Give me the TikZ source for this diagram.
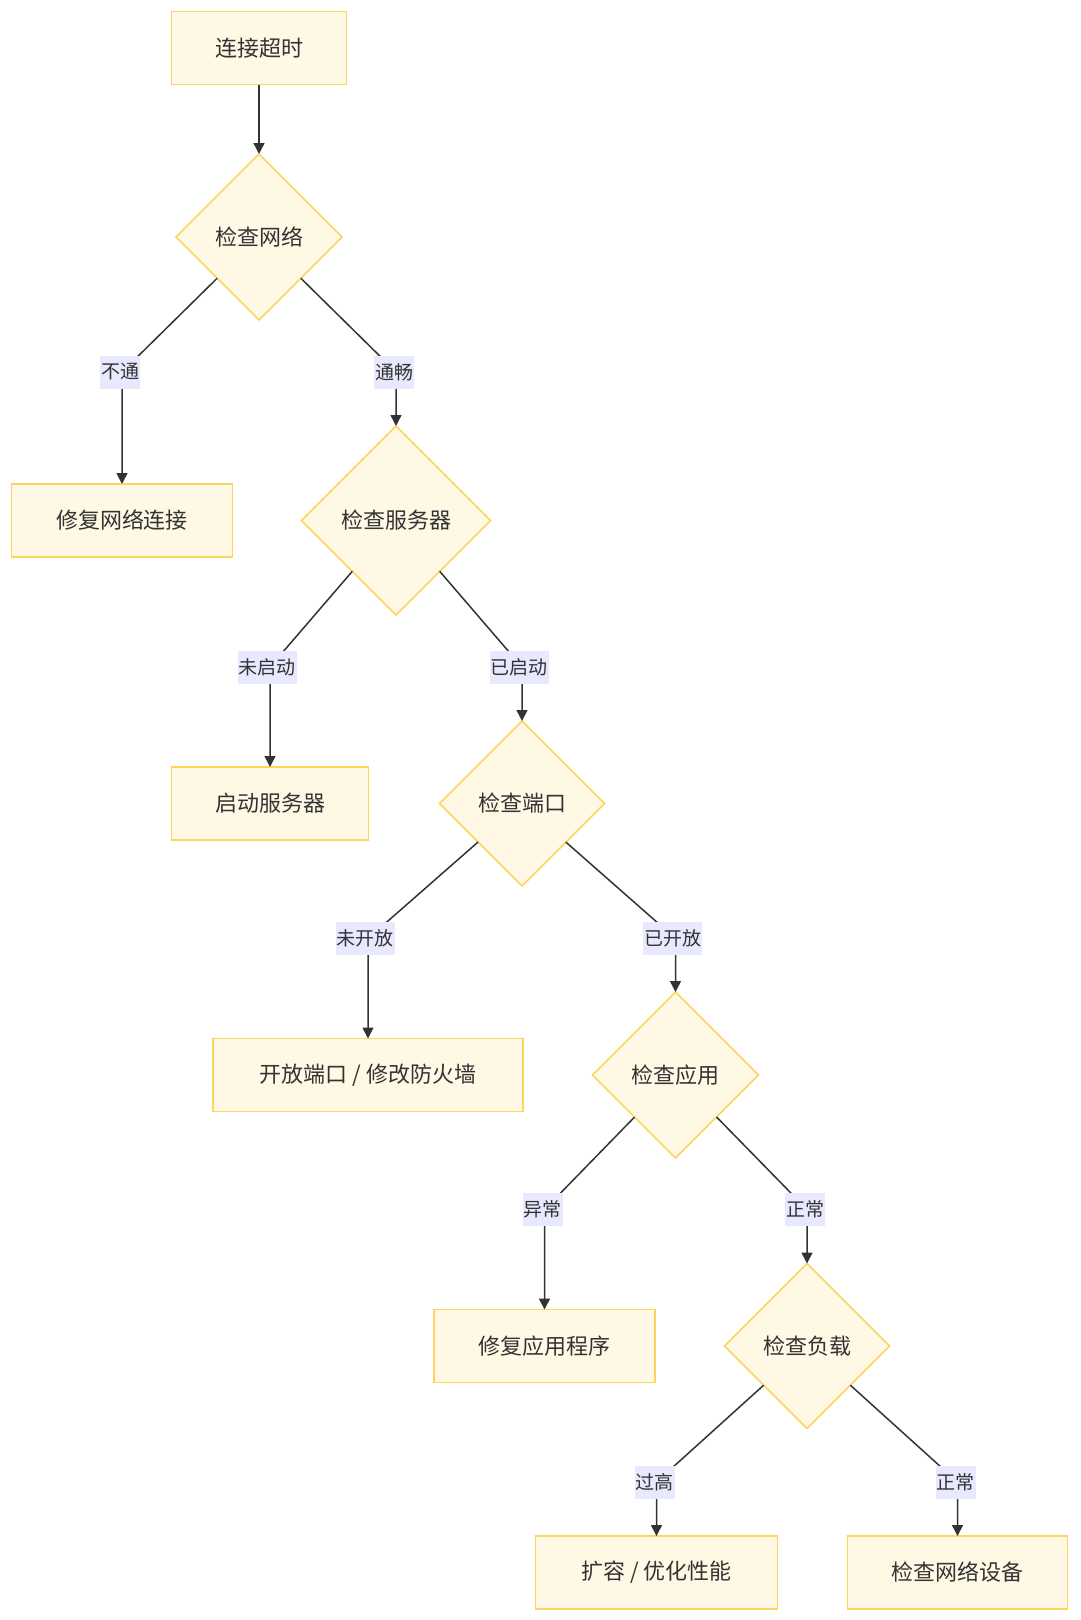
\documentclass[tikz,border=0pt]{standalone}
\usepackage{fontspec}
\setmainfont{Noto Sans CJK SC}
\usetikzlibrary{shapes.geometric,arrows.meta}
\definecolor{nodefill}{HTML}{FFF8E5}
\definecolor{nodeline}{HTML}{FDD55E}
\definecolor{labfill}{HTML}{E8E8FF}
\definecolor{ink}{HTML}{333333}
\tikzset{
  boxnode/.style={draw=nodeline, fill=nodefill, line width=1.5pt, minimum height=73pt, inner sep=0pt, outer sep=0pt, text=ink, font=\fontsize{22pt}{26pt}\selectfont},
  decnode/.style={diamond, aspect=1, draw=nodeline, fill=nodefill, line width=1.5pt, inner sep=0pt, outer sep=0pt, text=ink, font=\fontsize{22pt}{26pt}\selectfont},
  labnode/.style={fill=labfill, inner xsep=1pt, inner ysep=0pt, minimum height=33pt, text=ink, font=\fontsize{19pt}{23pt}\selectfont},
  arr/.style={draw=ink, line width=1.5pt, -{Triangle[length=11pt,width=11pt]}}
}
\begin{document}
\begin{tikzpicture}[x=1pt,y=-1pt]
\useasboundingbox[fill=white] (0,0) rectangle (1080,1620);
% nodes
\node[boxnode, minimum width=175pt] (A) at (259,48) {连接超时};
\node[decnode, minimum width=166pt, minimum height=166pt] (B) at (259,237) {检查网络};
\node[boxnode, minimum width=221pt] (C) at (122,520.5) {修复网络连接};
\node[decnode, minimum width=189pt, minimum height=189pt] (D) at (396,520.5) {检查服务器};
\node[boxnode, minimum width=197pt] (E) at (270,803.5) {启动服务器};
\node[decnode, minimum width=165pt, minimum height=165pt] (F) at (522,803.5) {检查端口};
\node[boxnode, minimum width=310pt] (G) at (368,1075) {开放端口 / 修改防火墙};
\node[decnode, minimum width=166pt, minimum height=166pt] (H) at (675.5,1075) {检查应用};
\node[boxnode, minimum width=221pt] (I) at (544.5,1346) {修复应用程序};
\node[decnode, minimum width=165pt, minimum height=165pt] (J) at (807,1346) {检查负载};
\node[boxnode, minimum width=242pt] (K) at (656.5,1572.5) {扩容 / 优化性能};
\node[boxnode, minimum width=220pt] (L) at (957.5,1572.5) {检查网络设备};
% bend coordinates
\coordinate (b1) at (122,372);
\coordinate (b2) at (396,372);
\coordinate (b3) at (270,667);
\coordinate (b4) at (522,667);
\coordinate (b5) at (368,938.5);
\coordinate (b6) at (675.5,938.5);
\coordinate (b7) at (544.5,1209.5);
\coordinate (b8) at (807,1209.5);
\coordinate (b9) at (656.5,1482);
\coordinate (b10) at (957.5,1482);
% edges
\draw[arr] (A.south) -- (B.north);
\draw[arr] (B) -- (b1) -- (C.north);
\draw[arr] (B) -- (b2) -- (D.north);
\draw[arr] (D) -- (b3) -- (E.north);
\draw[arr] (D) -- (b4) -- (F.north);
\draw[arr] (F) -- (b5) -- (G.north);
\draw[arr] (F) -- (b6) -- (H.north);
\draw[arr] (H) -- (b7) -- (I.north);
\draw[arr] (H) -- (b8) -- (J.north);
\draw[arr] (J) -- (b9) -- (K.north);
\draw[arr] (J) -- (b10) -- (L.north);
% edge labels
\node[labnode, xshift=-2pt] (l1) at (b1) {不通};
\node[labnode, xshift=-2pt] (l2) at (b2) {通畅};
\node[labnode, xshift=-3pt] (l3) at (b3) {未启动};
\node[labnode, xshift=-3pt] (l4) at (b4) {已启动};
\node[labnode, xshift=-3pt] (l5) at (b5) {未开放};
\node[labnode, xshift=-3pt] (l6) at (b6) {已开放};
\node[labnode, xshift=-2pt] (l7) at (b7) {异常};
\node[labnode, xshift=-2pt] (l8) at (b8) {正常};
\node[labnode, xshift=-2pt] (l9) at (b9) {过高};
\node[labnode, xshift=-2pt] (l10) at (b10) {正常};
\end{tikzpicture}
\end{document}
